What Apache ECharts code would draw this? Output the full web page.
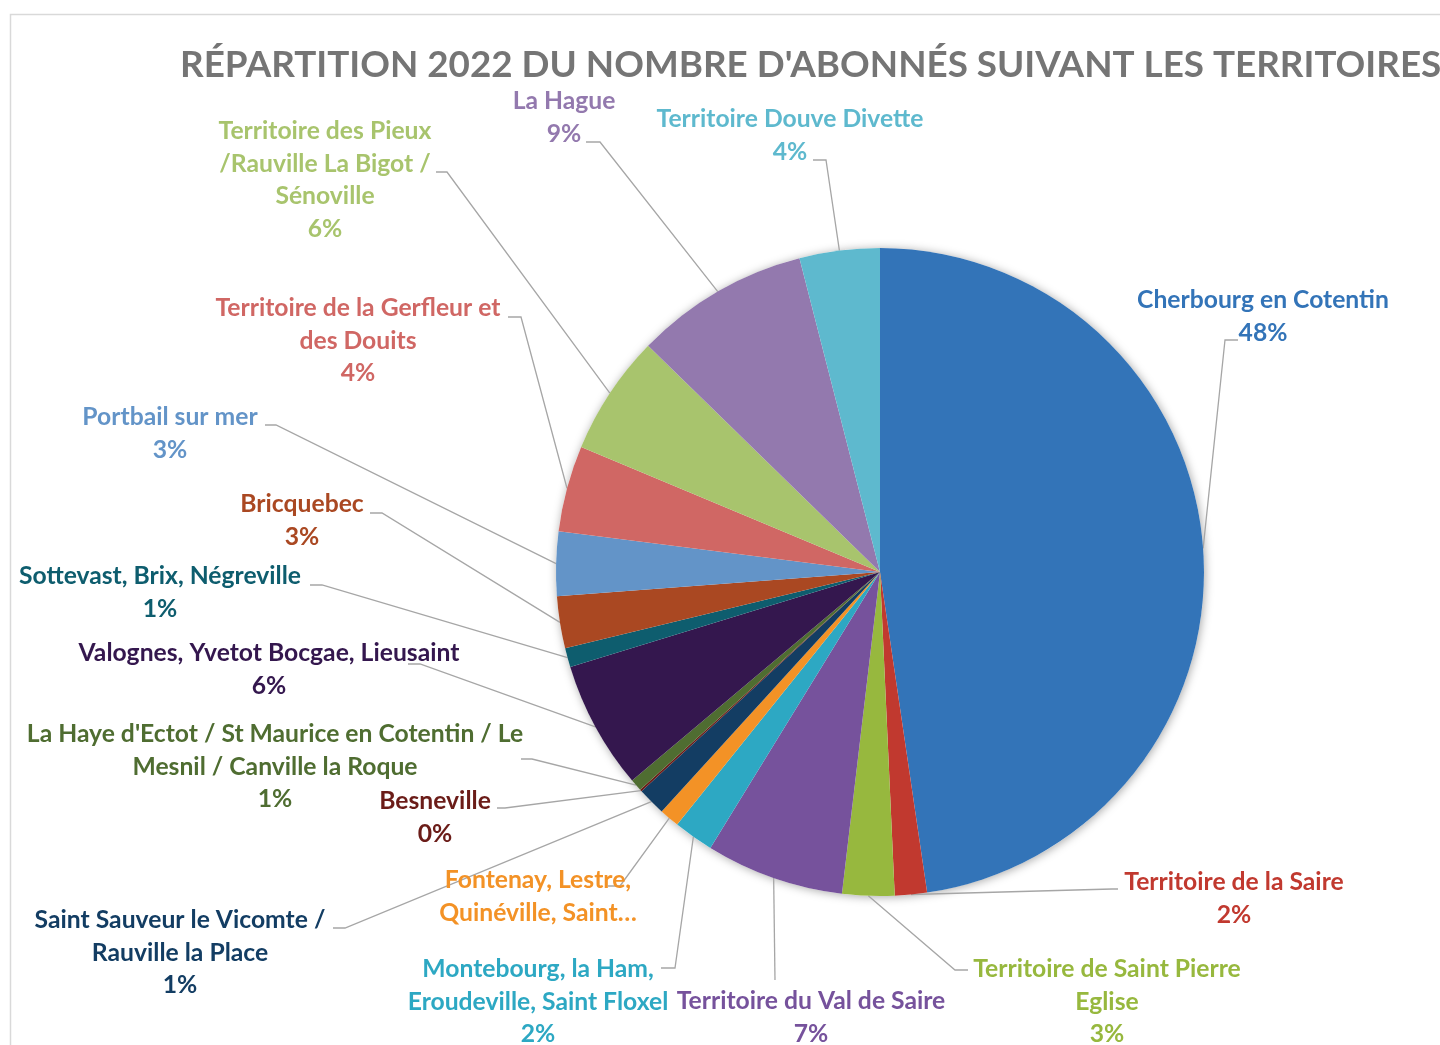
<!DOCTYPE html>
<html>
<head>
<meta charset="utf-8">
<script src="https://cdn.jsdelivr.net/npm/echarts@6/dist/echarts.min.js"></script>
<style>
html, body { margin: 0; padding: 0; background: #fff; }
#chart { width: 1440px; height: 1045px; }
</style>
</head>
<body>
<div id="chart"></div>
<script>
// parts in clockwise order, starting at 12 o'clock
const territoires = [
    'Cherbourg en Cotentin',
    'Territoire de la Saire',
    'Territoire de Saint Pierre\nEglise',
    'Territoire du Val de Saire',
    'Montebourg, la Ham,\nEroudeville, Saint Floxel',
    'Fontenay, Lestre,\nQuinéville, Saint…',
    'Saint Sauveur le Vicomte /\nRauville la Place',
    'Besneville',
    "La Haye d'Ectot / St Maurice en Cotentin / Le\nMesnil / Canville la Roque",
    'Valognes, Yvetot Bocgae, Lieusaint',
    'Sottevast, Brix, Négreville',
    'Bricquebec',
    'Portbail sur mer',
    'Territoire de la Gerfleur et\ndes Douits',
    'Territoire des Pieux\n/Rauville La Bigot /\nSénoville',
    'La Hague',
    'Territoire Douve Divette'
]
const parts = [47.7, 1.6, 2.6, 6.9, 2.0, 1.0, 1.4, 0.1, 0.6, 6.4, 0.95, 2.6, 3.2, 4.3, 6.0, 8.7, 4.0]
const couleurs = [
    '#3374B8', '#C1392F', '#97B83E', '#76529C', '#2DA8C3', '#F39226',
    '#133D63', '#6B1C18', '#4F6D31', '#34174E', '#0E5D6E', '#AA4822',
    '#6394C8', '#D06764', '#A8C46D', '#9379AE', '#5EB9CE'
]
// label placement: [centre x, top y, elbow x, elbow y, end x, end y]
const placement = [
    [1263, 284, 1225, 340, 1238, 340],
    [1234, 866, 1112, 889, 1118, 889],
    [1107, 953, 955, 970, 968, 970],
    [811, 985, 775, 980, 775, 980],
    [538, 953, 675, 968, 661, 968],
    [538, 864, 620, 886, 608, 886],
    [180, 904, 345, 928, 333, 928],
    [435, 785, 505, 808, 497, 808],
    [275, 718, 532, 759, 521, 759],
    [269, 637, 420, 664, 408, 664],
    [160, 560, 322, 585, 310, 585],
    [302, 488, 382, 513, 370, 513],
    [170, 401, 276, 425, 265, 425],
    [358, 292, 521, 317, 508, 317],
    [325, 115, 447, 172, 436, 172],
    [564, 85, 600, 142, 586, 142],
    [790, 103, 826, 160, 813, 160]
]
// the Fontenay box is too short in the original, its % line is cut off
const boiteCoupee = { 5: { height: 66, lineOverflow: 'truncate' } }

const chart = echarts.init(document.getElementById('chart'))
const centre = [880, 572]
const rayon = 324

const option = {
    animation: false,
    title: {
        text: "RÉPARTITION 2022 DU NOMBRE D'ABONNÉS SUIVANT LES TERRITOIRES",
        left: 175,
        top: 37,
        textStyle: {
            fontFamily: 'Lato',
            fontWeight: 'bold',
            fontSize: 36.8,
            lineHeight: 46,
            color: '#757575'
        }
    },
    graphic: [{
        type: 'rect',
        silent: true,
        shape: { x: 10.5, y: 14.5, width: 1500, height: 1100 },
        style: { fill: 'none', stroke: '#D9D9D9', lineWidth: 1.5 }
    }],
    series: [
        {
            // soft shadow under the whole disc
            type: 'pie',
            silent: true,
            center: centre,
            radius: rayon,
            z: 1,
            label: { show: false },
            labelLine: { show: false },
            emphasis: { disabled: true },
            itemStyle: {
                color: '#fff',
                shadowBlur: 10,
                shadowOffsetX: 1,
                shadowOffsetY: 1,
                shadowColor: 'rgba(0,0,0,0.35)'
            },
            data: [parts.reduce((a, b) => a + b, 0)]
        },
        {
            type: 'pie',
            center: centre,
            radius: rayon,
            startAngle: 90,
            clockwise: true,
            z: 2,
            avoidLabelOverlap: false,
            emphasis: { disabled: true },
            itemStyle: { borderWidth: 0 },
            label: {
                show: true,
                position: 'outside',
                fontFamily: 'Lato',
                fontWeight: 'bold',
                fontSize: 24.7,
                lineHeight: 32.5,
                formatter: p => territoires[p.dataIndex] + '\n' + Math.round(p.percent) + '%'
            },
            labelLine: {
                show: true,
                length: 10,
                length2: 10,
                smooth: false,
                lineStyle: { color: '#A6A6A6', width: 1.3 }
            },
            labelLayout: function (params) {
                const e = placement[params.dataIndex]
                const pts = params.labelLinePoints
                const debut = pts ? pts[0] : [e[2], e[3]]
                return {
                    x: e[0],
                    y: e[1],
                    align: 'center',
                    verticalAlign: 'top',
                    labelLinePoints: [debut, [e[2], e[3]], [e[4], e[5]]]
                }
            },
            data: parts.map((v, i) => ({
                name: territoires[i],
                value: v,
                itemStyle: { color: couleurs[i] },
                label: Object.assign({ color: couleurs[i] }, boiteCoupee[i] || {})
            }))
        }
    ]
}
chart.setOption(option)
</script>
</body>
</html>
